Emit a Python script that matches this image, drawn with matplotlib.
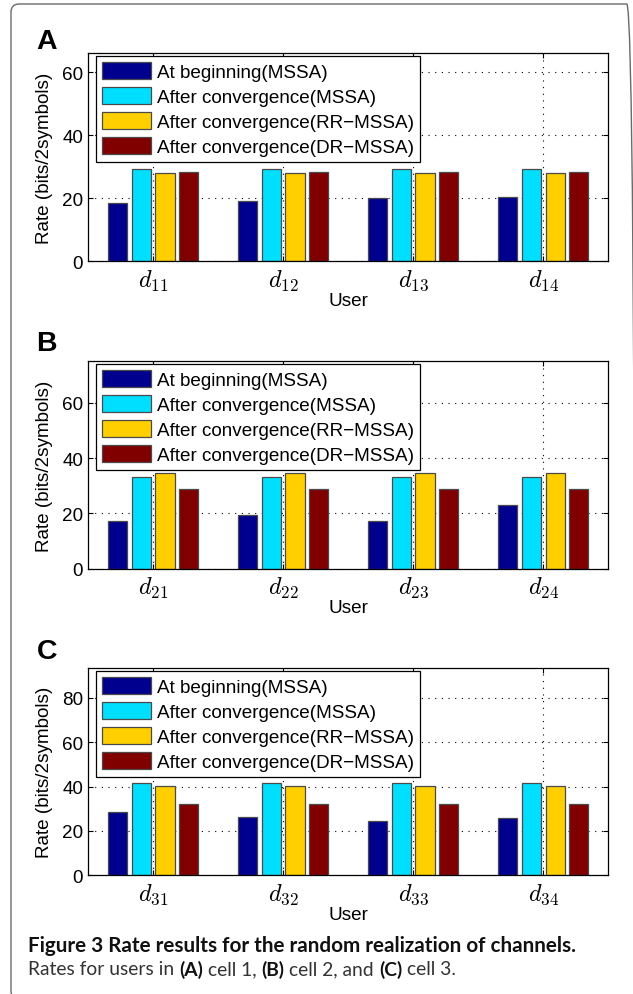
import matplotlib
matplotlib.use('Agg')
import matplotlib.pyplot as plt
from matplotlib.patches import FancyBboxPatch
import numpy as np

plt.rcParams['font.family'] = ['Liberation Sans', 'DejaVu Sans']
plt.rcParams['mathtext.fontset'] = 'cm'

# ---------------- data ----------------
series_labels = ['At beginning(MSSA)', 'After convergence(MSSA)',
                 'After convergence(RR\u2212MSSA)', 'After convergence(DR\u2212MSSA)']
series_colors = ['#00008F', '#00DFFF', '#FFCF00', '#800000']

panel_letters = ['A', 'B', 'C']

users_A = [r'$d_{11}$', r'$d_{12}$', r'$d_{13}$', r'$d_{14}$']
begin_A = [18.4, 19.0, 20.0, 20.3]
mssa_A = [29.3, 29.3, 29.3, 29.3]
rr_A = [28.0, 28.0, 28.0, 28.0]
dr_A = [28.3, 28.3, 28.3, 28.3]

users_B = [r'$d_{21}$', r'$d_{22}$', r'$d_{23}$', r'$d_{24}$']
begin_B = [17.2, 19.5, 17.2, 23.2]
mssa_B = [33.3, 33.3, 33.3, 33.3]
rr_B = [34.6, 34.6, 34.6, 34.6]
dr_B = [29.0, 29.0, 29.0, 29.0]

users_C = [r'$d_{31}$', r'$d_{32}$', r'$d_{33}$', r'$d_{34}$']
begin_C = [28.4, 26.3, 24.4, 26.0]
mssa_C = [41.6, 41.6, 41.6, 41.6]
rr_C = [40.3, 40.3, 40.3, 40.3]
dr_C = [32.2, 32.2, 32.2, 32.2]

ymax_list = [66, 75, 93.5]
yticks_A = [0, 20, 40, 60]
yticks_B = [0, 20, 40, 60]
yticks_C = [0, 20, 40, 60, 80]

ylabel_text = 'Rate (bits/2symbols)'
xlabel_text = 'User'
caption_bold = 'Figure 3 Rate results for the random realization of channels.'
caption_parts = [('Rates for users in ', 'normal'), ('(A)', 'bold'), (' cell 1, ', 'normal'),
                 ('(B)', 'bold'), (' cell 2, and ', 'normal'), ('(C)', 'bold'), (' cell 3.', 'normal')]

panels = [
    (users_A, [begin_A, mssa_A, rr_A, dr_A], yticks_A),
    (users_B, [begin_B, mssa_B, rr_B, dr_B], yticks_B),
    (users_C, [begin_C, mssa_C, rr_C, dr_C], yticks_C),
]

# ---------------- layout ----------------
W, H = 633, 995
fig = plt.figure(figsize=(W / 100, H / 100), dpi=100)

def fx(px):
    return px / W

def fy(py):
    return 1 - py / H

# figure frame (rounded)
frame = FancyBboxPatch((fx(11), fy(1000)), fx(635) - fx(11), fy(5) - fy(1000),
                       boxstyle='round,pad=0,rounding_size=0.013',
                       transform=fig.transFigure, facecolor='none',
                       edgecolor='#6a6a6a', linewidth=1.0, mutation_aspect=W / H)
fig.patches.append(frame)

axes_px = [(88, 54.3, 608.4, 262.3), (88, 362.3, 608.4, 569.7), (88, 669, 608.4, 876.3)]
letter_baselines = [49.3, 350.7, 658.6]

offsets = [-0.273, -0.091, 0.091, 0.273]
bar_w = 0.148
fs = 13.6

for i, ((users, series, yt), (l, t, r, b)) in enumerate(zip(panels, axes_px)):
    ax = fig.add_axes([fx(l), fy(b), fx(r) - fx(l), fy(t) - fy(b)])
    x = np.arange(1, len(users) + 1)
    handles = []
    for k, vals in enumerate(series):
        h = ax.bar(x + offsets[k], vals, width=bar_w, color=series_colors[k],
                   edgecolor='#4a4a4a', linewidth=0.9, label=series_labels[k], zorder=2)
        handles.append(h)
    ax.set_xlim(0.5, len(users) + 0.5)
    ax.set_ylim(0, ymax_list[i])
    ax.set_xticks(x)
    ax.set_xticklabels(users, fontsize=17.5)
    ax.set_yticks(yt)
    ax.tick_params(axis='y', labelsize=fs, pad=3.5)
    ax.tick_params(axis='x', pad=4.5)
    ax.tick_params(direction='in', length=3.5, width=0.8, top=True, right=True, colors='k')
    for s in ax.spines.values():
        s.set_linewidth(0.9)
        s.set_color('k')
    ax.grid(True, linestyle=(0, (1, 5)), linewidth=0.8, color='k', zorder=1)
    ax.set_axisbelow(True)
    ax.set_ylabel(ylabel_text, fontsize=fs, va='center')
    ax.yaxis.set_label_coords((44.4 - l) / (r - l), 0.5)
    ax.set_xlabel(xlabel_text, fontsize=fs, va='baseline')
    ax.xaxis.set_label_coords(0.5, -(43.7) / (b - t))
    leg = ax.legend(handles, series_labels, loc='upper left',
                    bbox_to_anchor=((96.2 - l) / (r - l), 1 - 2.6 / (b - t)),
                    borderaxespad=0, fancybox=False, edgecolor='k', framealpha=1,
                    fontsize=fs, handlelength=2.6, handleheight=1.0,
                    handletextpad=0.3, labelspacing=0.33, borderpad=0.32)
    leg.get_frame().set_linewidth(0.9)
    leg.set_zorder(5)
    fig.text(fx(36.5), fy(letter_baselines[i]), panel_letters[i], fontsize=20.5,
             fontweight='bold', ha='left', va='baseline')

# ---------------- caption ----------------
cap_font = ['Lato', 'DejaVu Sans']
renderer = fig.canvas.get_renderer()

def width_px(s, weight, size):
    t = fig.text(0, 0, s, fontsize=size, fontweight=weight, family=cap_font)
    w = t.get_window_extent(renderer).width
    t.remove()
    return w

# line 1: fit to the measured span of the reference line
cap1_left, cap1_right = 28.3, 576.7
size1 = 13.0 * (cap1_right - cap1_left) / width_px(caption_bold, 'bold', 13.0)
fig.text(fx(cap1_left), fy(951.7), caption_bold, fontsize=size1, fontweight='bold',
         family=cap_font, ha='left', va='baseline', color='#111111')

# line 2: mixed weights, fitted to the reference span
cap2_left, cap2_right = 28.3, 456.7

def line2_width(size):
    total = 0
    for s, wgt in caption_parts:
        sp = width_px('a a', wgt, size) - width_px('aa', wgt, size)
        n_sp = len(s) - len(s.strip(' '))
        total += n_sp * sp + width_px(s.strip(' '), wgt, size)
    return total

size2 = 13.0 * (cap2_right - cap2_left) / line2_width(13.0)
xpos = cap2_left
for s, wgt in caption_parts:
    stripped = s.strip(' ')
    lead = len(s) - len(s.lstrip(' '))
    trail = len(s) - len(s.rstrip(' '))
    sp = width_px('a a', wgt, size2) - width_px('aa', wgt, size2)
    xpos += lead * sp
    fig.text(fx(xpos), fy(975.5), stripped, fontsize=size2, fontweight=wgt,
             family=cap_font, ha='left', va='baseline',
             color='#333333' if wgt == 'normal' else '#111111')
    xpos += width_px(stripped, wgt, size2) + trail * sp

fig.savefig('out.png', dpi=100)
